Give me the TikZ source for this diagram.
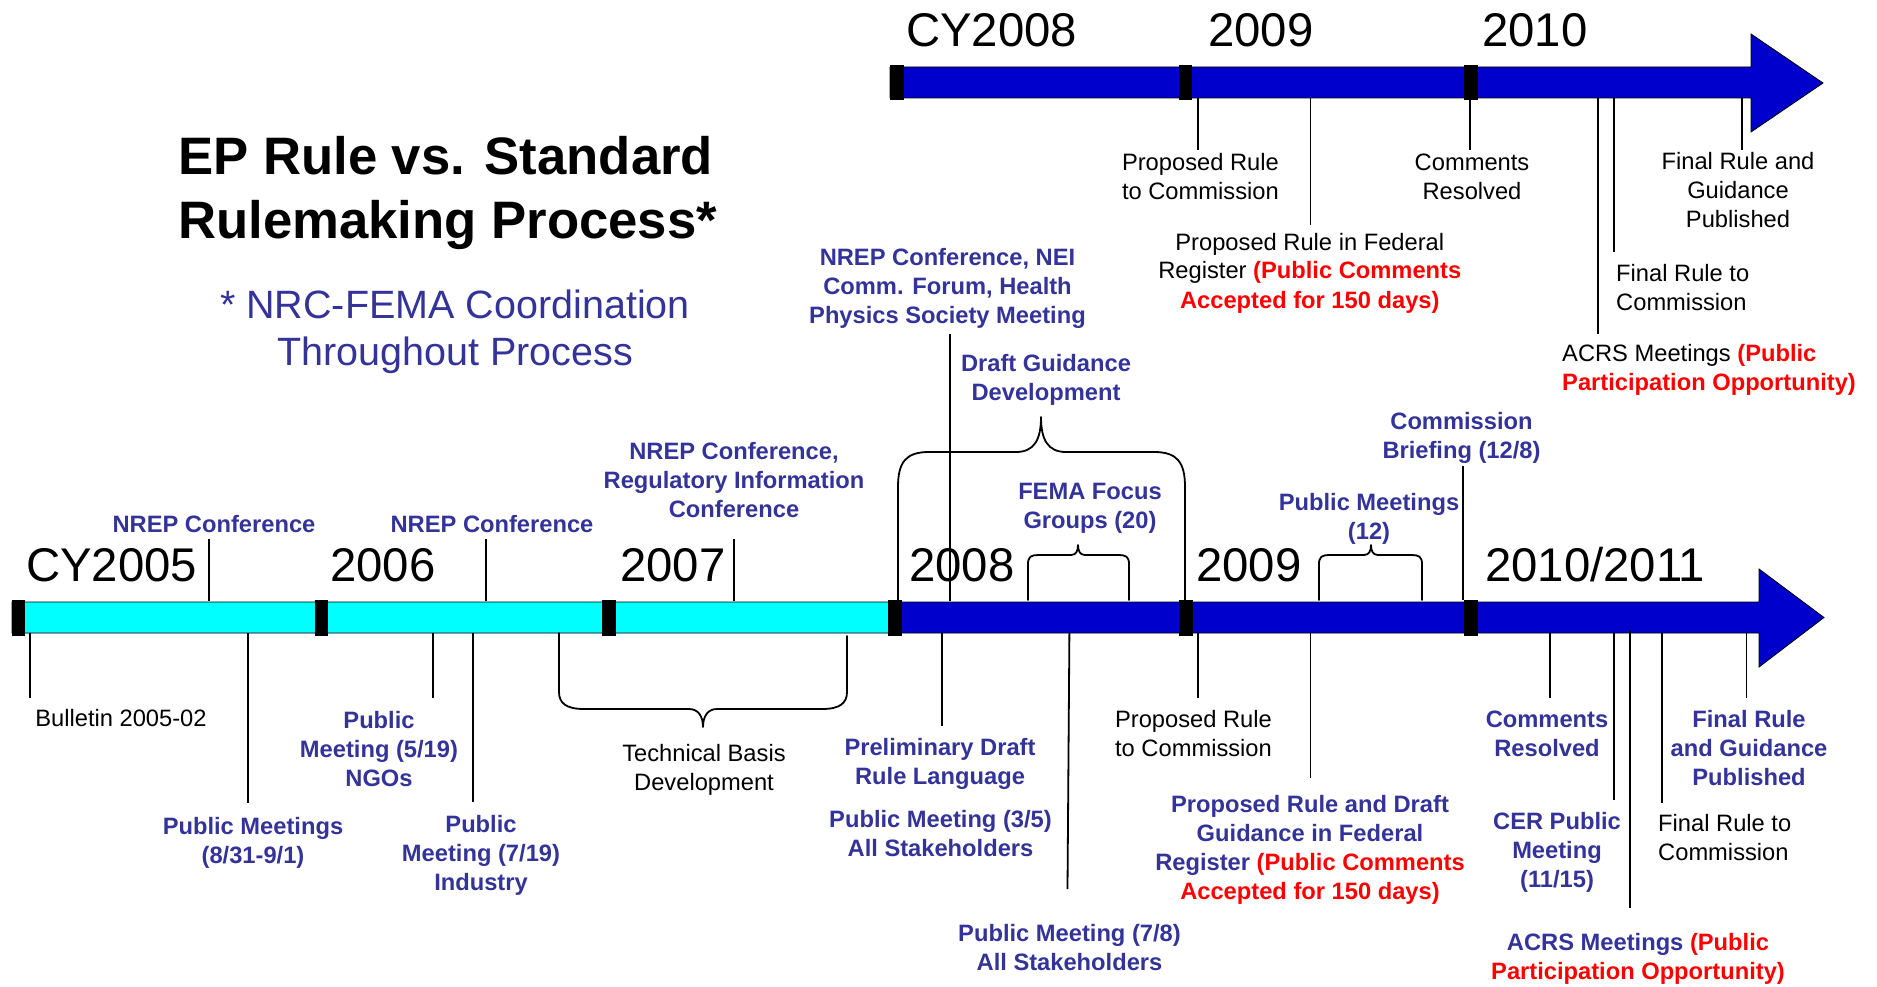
\documentclass[tikz,border=0pt]{standalone}
\usepackage{fontspec}
\setmainfont{Liberation Sans}
\definecolor{navyb}{RGB}{51,51,153}
\definecolor{barblue}{RGB}{0,0,204}
\definecolor{barcyan}{RGB}{0,255,255}
\definecolor{redc}{RGB}{255,0,0}
\newcommand{\rd}[1]{\textcolor{redc}{\bfseries #1}}
\begin{document}
\begin{tikzpicture}[x=1pt,y=-1pt,
  lab/.style={inner sep=0pt, align=center, anchor=base, text=black, font=\fontsize{23.7}{29}\selectfont},
  bl/.style={lab, text=navyb, font=\fontsize{23.7}{29}\selectfont\bfseries},
  bk/.style={lab},
  yr/.style={inner sep=0pt, anchor=base west, font=\fontsize{47.3}{50}\selectfont},
  tick/.style={draw=black, line width=1.8pt},
  brace/.style={draw=black, line width=1.8pt, line join=round, line cap=round},
  sepbox/.style={fill=black},
  outl/.style={draw=black, line width=0.8pt}]
\useasboundingbox (0,0) rectangle (1877,987);
\fill[white] (0,0) rectangle (1877,987);

% (multi-line nodes are anchored at the baseline of their last line)
% ---------- title ----------
\node[inner sep=0pt, anchor=base west, align=left, font=\fontsize{52.7}{63.3}\selectfont\bfseries] (title) at (178,238.3) {EP Rule vs. Standard\\Rulemaking Process*};
\node[inner sep=0pt, anchor=base, align=center, text=navyb, font=\fontsize{39.5}{46.7}\selectfont] (subt) at (455,365) {* NRC-FEMA Coordination\\Throughout Process};

% ---------- upper timeline ----------
\fill[barblue] (890,67) -- (1751,67) -- (1751,34) -- (1823,83) -- (1751,132) -- (1751,98) -- (890,98) -- cycle;
\path[outl] (890,67) -- (1751,67) -- (1751,34) -- (1823,83) -- (1751,132) -- (1751,98) -- (890,98) -- cycle;
\fill[sepbox] (890,65) rectangle (904,100);
\fill[sepbox] (1179,65) rectangle (1192,100);
\fill[sepbox] (1464,65) rectangle (1478,100);
\node[yr] (uy08) at (906,46.7) {CY2008};
\node[yr] (uy09) at (1208,46.7) {2009};
\node[yr] (uy10) at (1482,46.7) {2010};

% ---------- lower timeline ----------
\fill[barblue] (12,602) -- (1759,602) -- (1759,569) -- (1824,617.5) -- (1759,667) -- (1759,633) -- (12,633) -- cycle;
\fill[barcyan] (12,602) rectangle (895,633);
\path[outl] (12,602) -- (1759,602) -- (1759,569) -- (1824,617.5) -- (1759,667) -- (1759,633) -- (12,633) -- cycle;
\fill[sepbox] (12,600) rectangle (25,636);
\fill[sepbox] (315,600) rectangle (328,636);
\fill[sepbox] (602,600) rectangle (616,636);
\fill[sepbox] (888,600) rectangle (902,636);
\fill[sepbox] (1179,600) rectangle (1193,636);
\fill[sepbox] (1464,600) rectangle (1478,636);
\node[yr] (ly05) at (26,581.7) {CY2005};
\node[yr] (ly06) at (330,581.7) {2006};
\node[yr] (ly07) at (620,581.7) {2007};
\node[yr] (ly08) at (909,581.7) {2008};
\node[yr] (ly09) at (1196,581.7) {2009};
\node[yr] (ly10) at (1485,581.7) {2010/2011};

% ---------- upper timeline labels ----------
\node[bk] (uprop) at (1200.4,199.3) {Proposed Rule\\to Commission};
\node[bk] (ufed) at (1309.8,308) {Proposed Rule in Federal\\Register \rd{(Public Comments}\\\rd{Accepted for 150 days)}};
\node[bk] (ucom) at (1472,199.3) {Comments\\Resolved};
\node[bk] (ufin) at (1738,227.5) {Final Rule and\\Guidance\\Published};
\node[bk, align=left, anchor=base west] (ufrc) at (1616,310.7) {Final Rule to\\Commission};
\node[bk, align=left, anchor=base west] (uacrs) at (1562,390) {ACRS Meetings \rd{(Public}\\\rd{Participation Opportunity)}};

\coordinate (a1) at (1198,98);   \coordinate (b1) at (1198,150);
\coordinate (a2) at (1310.4,98); \coordinate (b2) at (1310.4,225);
\coordinate (a3) at (1470,98);   \coordinate (b3) at (1470,150);
\coordinate (a4) at (1742,98);   \coordinate (b4) at (1742,150);
\coordinate (a5) at (1614,98);   \coordinate (b5) at (1614,252);
\coordinate (a6) at (1598,98);   \coordinate (b6) at (1598,334);
\foreach \i in {1,...,6} {\draw[tick] (a\i) -- (b\i);}

% ---------- lower timeline: labels above ----------
\node[bl] (nrep1) at (214,532) {NREP Conference};
\node[bl] (nrep2) at (492,532) {NREP Conference};
\node[bl] (nrep3) at (734,517.3) {NREP Conference,\\Regulatory Information\\Conference};
\node[bl] (nrep4) at (947.5,323.3) {NREP Conference, NEI\\Comm. Forum, Health\\Physics Society Meeting};
\node[bl] (draft) at (1046,400.7) {Draft Guidance\\Development};
\node[bl] (fema) at (1090,528.5) {FEMA Focus\\Groups (20)};
\node[bl] (pm12) at (1369,539.5) {Public Meetings\\(12)};
\node[bl] (cbrief) at (1461.5,458.5) {Commission\\Briefing (12/8)};

\coordinate (c1) at (209,539);  \coordinate (d1) at (209,601);
\coordinate (c2) at (486,539);  \coordinate (d2) at (486,601);
\coordinate (c3) at (734,539);  \coordinate (d3) at (734,601);
\coordinate (c4) at (950,334);  \coordinate (d4) at (950,601);
\coordinate (c5) at (1463,466); \coordinate (d5) at (1463,600);
\foreach \i in {1,...,5} {\draw[tick] (c\i) -- (d\i);}

% braces above lower bar
\draw[brace] (898,600) -- (898,487) .. controls (898,462) and (906,452) .. (929,452) -- (1016,452)
  .. controls (1034,452) and (1041,440) .. (1041,417)
  .. controls (1041,440) and (1048,452) .. (1066,452) -- (1154,452)
  .. controls (1177,452) and (1185,462) .. (1185,487) -- (1185,600);
\draw[brace] (1028,600) -- (1028,564) .. controls (1028,557) and (1031,555) .. (1038,555) -- (1071,555)
  .. controls (1076,555) and (1078,551) .. (1078,545)
  .. controls (1078,551) and (1080,555) .. (1085,555) -- (1119,555)
  .. controls (1126,555) and (1129,557) .. (1129,564) -- (1129,600);
\draw[brace] (1319,600) -- (1319,564) .. controls (1319,557) and (1322,555) .. (1329,555) -- (1364,555)
  .. controls (1369,555) and (1371,551) .. (1371,545)
  .. controls (1371,551) and (1373,555) .. (1378,555) -- (1412,555)
  .. controls (1419,555) and (1422,557) .. (1422,564) -- (1422,600);

% ---------- lower timeline: labels below ----------
\node[bk] (bull) at (121,726.7) {Bulletin 2005-02};
\node[bl] (pm831) at (253,863) {Public Meetings\\(8/31-9/1)};
\node[bl] (pm519) at (379,786.5) {Public\\Meeting (5/19)\\NGOs};
\node[bl] (pm719) at (481,890) {Public\\Meeting (7/19)\\Industry};
\node[bk] (tech) at (704,790.5) {Technical Basis\\Development};
\node[bl] (prelim) at (940,784) {Preliminary Draft\\Rule Language};
\node[bl] (pm35) at (940.5,856) {Public Meeting (3/5)\\All Stakeholders};
\node[bl] (pm78) at (1069.5,970.5) {Public Meeting (7/8)\\All Stakeholders};
\node[bk] (lprop) at (1193.5,756.5) {Proposed Rule\\to Commission};
\node[bl] (lfed) at (1310,899) {Proposed Rule and Draft\\Guidance in Federal\\Register \rd{(Public Comments}\\\rd{Accepted for 150 days)}};
\node[bl] (lcom) at (1547,756.3) {Comments\\Resolved};
\node[bl] (cer) at (1557,887.3) {CER Public\\Meeting\\(11/15)};
\node[bl] (lacrs) at (1638,979) {ACRS Meetings \rd{(Public}\\\rd{Participation Opportunity)}};
\node[bk, align=left, anchor=base west] (lfrc) at (1658,860.7) {Final Rule to\\Commission};
\node[bl] (lfin) at (1749,785.3) {Final Rule\\and Guidance\\Published};

\coordinate (e1) at (30,633);     \coordinate (f1) at (30,698);
\coordinate (e2) at (248,633);    \coordinate (f2) at (248,803);
\coordinate (e3) at (433,633);    \coordinate (f3) at (433,698);
\coordinate (e4) at (473,633);    \coordinate (f4) at (473,802);
\coordinate (e5) at (942,633);    \coordinate (f5) at (942,726);
\coordinate (e6) at (1069.4,633); \coordinate (f6) at (1067.5,889);
\coordinate (e7) at (1198,633);   \coordinate (f7) at (1198,698);
\coordinate (e8) at (1310.4,633); \coordinate (f8) at (1310.4,778);
\coordinate (e9) at (1550,633);   \coordinate (f9) at (1550,698);
\coordinate (e10) at (1614,633);  \coordinate (f10) at (1614,800);
\coordinate (e11) at (1630,630);  \coordinate (f11) at (1630,908);
\coordinate (e12) at (1662,633);  \coordinate (f12) at (1662,803);
\coordinate (e13) at (1746.5,633);\coordinate (f13) at (1746.5,698);
\foreach \i in {1,...,13} {\draw[tick] (e\i) -- (f\i);}

% brace below lower bar
\draw[brace] (559,633) -- (559,692) .. controls (559,703) and (566,709) .. (584,709) -- (689,709)
  .. controls (698,709) and (703,716) .. (703,727)
  .. controls (703,716) and (708,709) .. (717,709) -- (822,709)
  .. controls (840,709) and (847,703) .. (847,692) -- (847,636);
\end{tikzpicture}
\end{document}
